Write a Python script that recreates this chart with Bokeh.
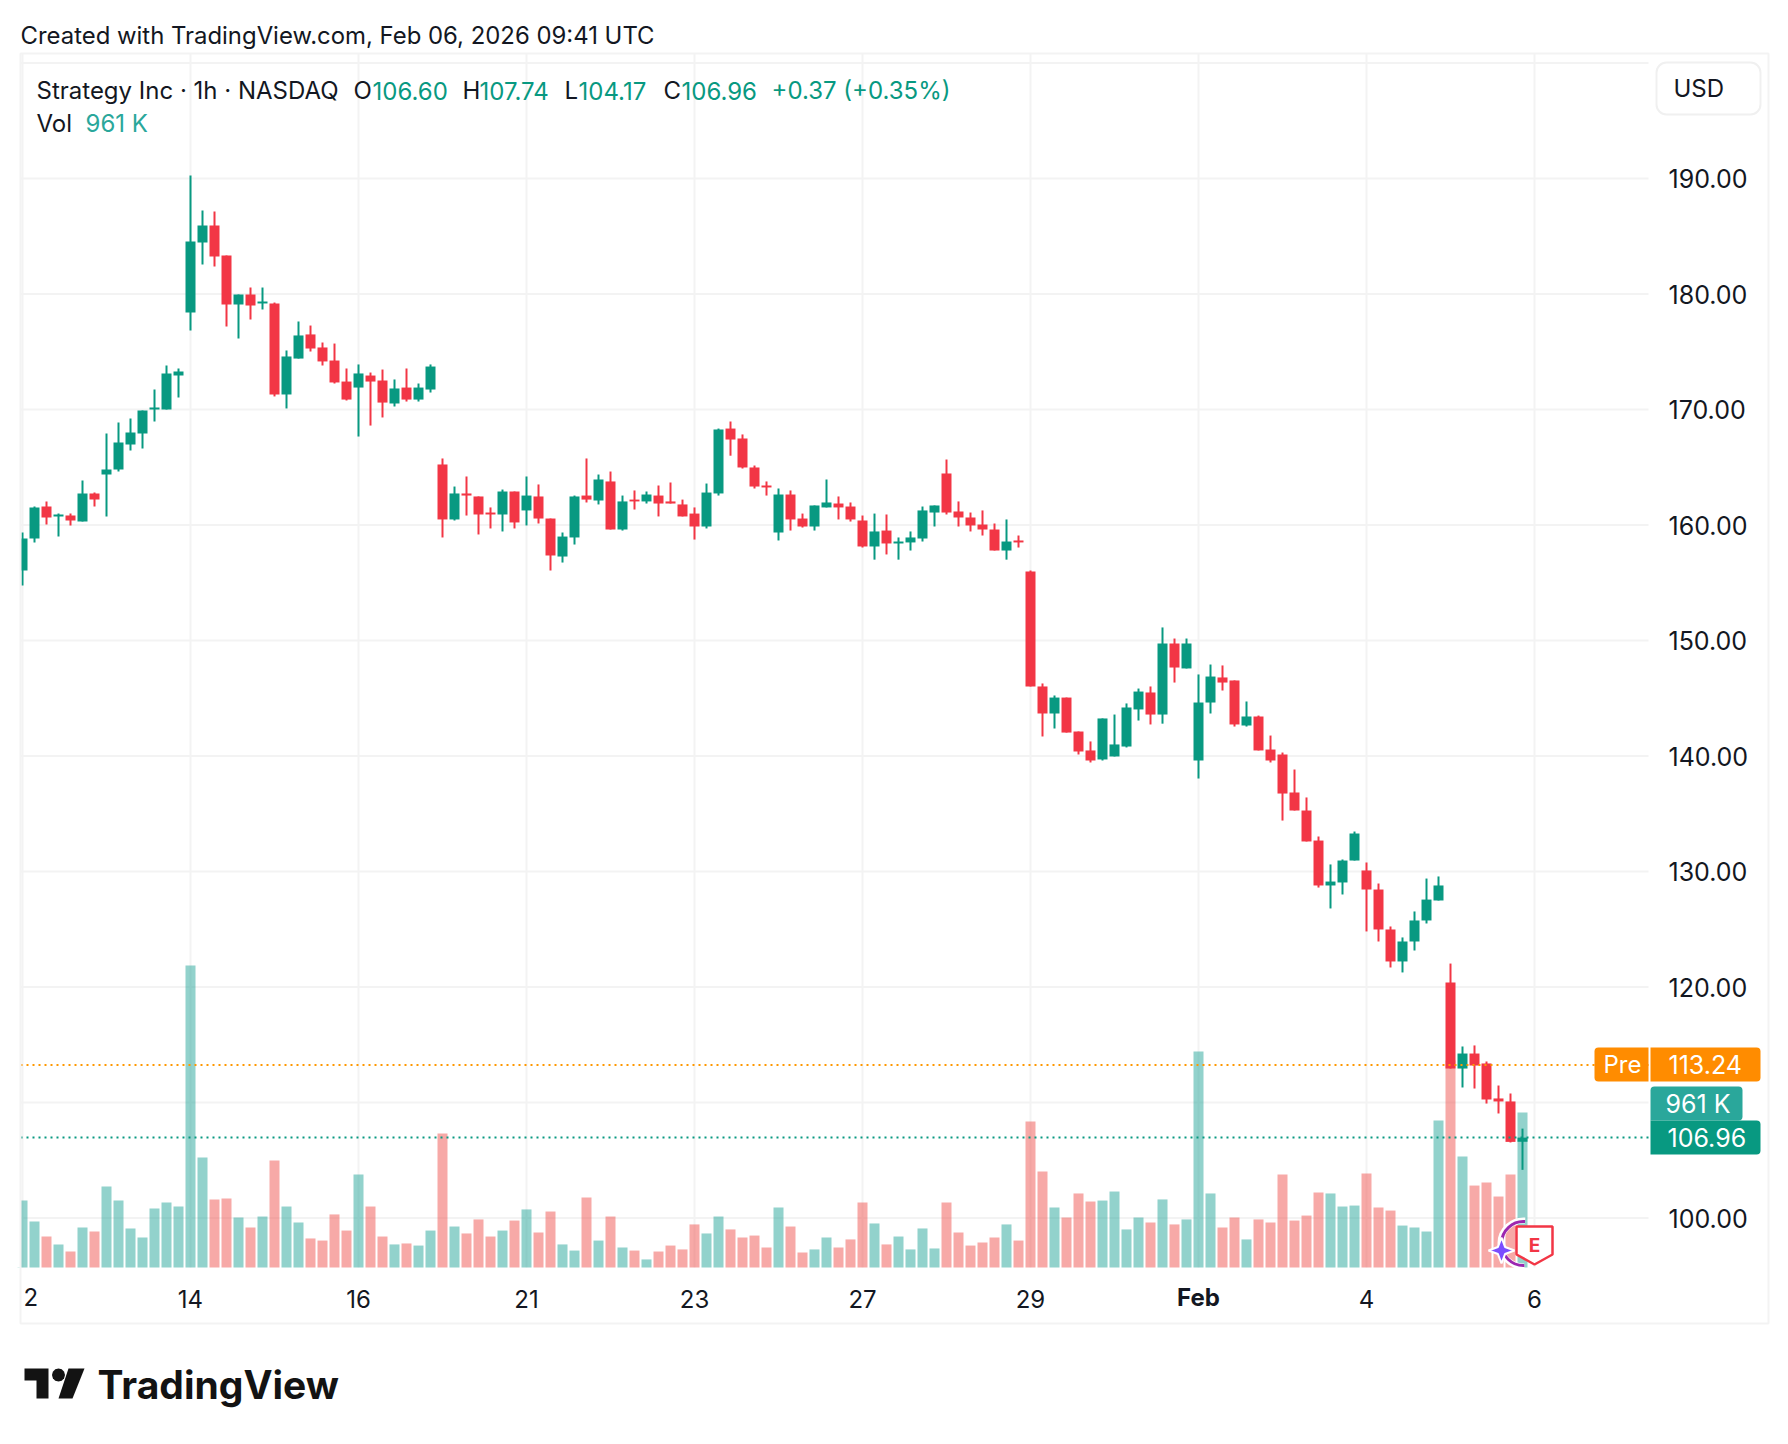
import math
from bokeh.plotting import figure
from bokeh.models import (ColumnDataSource, Range1d, FixedTicker, Label, BoxAnnotation, PolyAnnotation)
from bokeh.embed import file_html
from bokeh.resources import INLINE

opens = [156.06,158.83,161.60,160.74,160.82,160.30,162.73,164.37,164.80,166.97,
 167.92,170.00,170.00,172.94,178.40,184.46,185.93,183.33,179.09,179.96,
 179.18,179.18,171.30,174.41,176.50,175.37,174.24,172.42,171.90,172.94,
 172.51,170.52,171.90,170.86,171.73,165.24,160.48,162.73,162.47,161.08,
 160.91,162.90,161.26,162.47,160.56,157.27,158.92,162.55,162.12,163.77,
 159.61,162.20,162.04,162.55,162.04,161.78,160.99,159.87,162.73,168.35,
 167.49,164.98,163.42,159.35,162.64,160.56,159.87,161.52,161.86,161.60,
 160.39,158.14,159.52,158.40,158.49,158.83,161.08,164.46,161.17,160.65,
 160.04,159.61,157.79,158.66,155.97,146.02,143.68,145.06,142.12,140.48,
 139.70,139.96,140.82,144.03,145.50,143.59,149.74,147.58,139.61,144.63,
 146.80,146.54,142.64,143.42,140.56,140.13,136.84,135.28,132.68,128.79,
 129.05,130.95,130.09,128.44,124.98,122.21,123.94,125.76,127.49,120.39,
 112.94,114.24,113.38,110.35,110.09,106.60]
closes = [158.83,161.52,160.65,160.91,160.39,162.73,162.21,164.80,167.14,168.01,
 169.91,170.17,173.12,173.29,184.55,185.93,183.25,179.09,179.96,179.00,
 179.35,171.30,174.59,176.41,175.28,174.16,172.34,170.86,173.12,172.42,
 170.60,171.82,170.86,171.90,173.72,160.48,162.73,162.55,160.91,160.91,
 162.90,160.22,162.55,160.56,157.36,159.00,162.47,162.20,163.94,159.61,
 162.04,162.04,162.64,161.86,161.86,160.74,159.87,162.81,168.27,167.40,
 164.98,163.33,163.25,162.64,160.48,159.87,161.69,161.95,161.52,160.48,
 158.14,159.44,158.40,158.57,158.92,161.26,161.69,161.08,160.65,159.96,
 159.61,157.79,158.57,158.49,146.02,143.68,145.06,142.03,140.39,139.61,
 143.25,141.00,144.20,145.58,143.59,149.74,147.66,149.74,144.63,146.88,
 146.36,142.73,143.42,140.48,139.61,136.75,135.28,132.60,128.79,129.13,
 130.95,133.29,128.44,124.98,122.21,123.94,125.76,127.57,128.79,112.94,
 114.24,113.20,110.26,110.09,106.59,106.96]
highs = [159.35,161.60,162.03,161.00,161.00,163.85,162.81,167.92,168.87,169.22,
 169.91,171.73,173.81,173.55,190.26,187.23,187.14,183.33,179.96,180.56,
 180.56,179.26,175.11,177.62,177.27,175.80,175.71,173.55,173.90,173.20,
 173.46,172.60,173.55,172.25,173.90,165.76,163.33,164.20,162.47,161.52,
 163.07,162.90,164.20,163.51,160.56,159.35,162.55,165.76,164.37,164.63,
 162.55,162.99,162.90,163.42,163.68,162.20,161.52,163.59,168.35,168.96,
 167.84,165.15,163.77,163.16,162.99,160.99,161.69,163.94,162.47,161.95,
 160.82,160.99,160.91,158.92,159.44,161.60,161.69,165.67,162.04,161.08,
 161.26,160.13,160.48,159.09,156.06,146.28,145.24,145.06,142.12,141.26,
 143.25,143.59,144.55,145.84,146.02,151.13,150.17,150.17,147.06,147.92,
 147.84,146.54,144.72,143.50,141.77,140.30,138.83,136.41,133.03,130.61,
 131.04,133.46,130.78,128.96,125.24,124.29,126.54,129.39,129.57,122.03,
 114.85,114.94,113.55,111.47,110.78,107.74]
lows = [154.76,158.49,160.04,159.00,159.96,160.30,161.60,160.74,164.63,166.45,
 166.62,168.96,170.00,171.04,176.84,182.55,182.38,177.18,176.15,177.79,
 178.66,171.13,170.09,174.41,175.02,173.81,172.25,170.78,167.66,168.61,
 169.31,170.26,170.69,170.69,171.47,158.92,160.39,160.82,159.18,159.70,
 159.44,159.70,159.96,160.13,156.06,156.75,158.31,161.95,161.78,159.61,
 159.52,161.34,161.86,160.74,161.86,160.74,158.74,159.70,162.55,166.00,
 164.89,163.16,162.55,158.66,159.52,159.78,159.52,161.52,160.48,160.30,
 158.05,157.00,157.45,157.00,157.79,158.57,159.87,160.91,159.87,159.44,
 159.09,157.79,157.00,158.05,146.02,141.69,142.38,142.03,140.13,139.44,
 139.61,139.96,140.74,143.07,142.73,142.80,146.36,147.58,138.05,143.68,
 145.67,142.55,142.55,140.48,139.44,134.41,135.28,132.60,128.61,126.80,
 128.01,130.95,124.81,123.94,121.69,121.26,123.16,125.50,127.49,112.94,
 111.30,111.21,109.91,109.05,106.54,104.17]
volumes_k = [415,285,192,143,99,248,223,502,415,242,
 186,366,403,378,1872,682,422,428,310,248,
 316,663,378,279,180,167,329,229,577,378,
 192,143,149,136,229,831,254,211,298,192,
 229,291,360,217,347,143,105,434,167,316,
 124,105,50,99,136,112,267,211,316,236,
 186,198,124,372,254,93,112,186,124,174,
 403,273,143,192,112,242,118,403,217,136,
 155,186,267,167,905,595,372,310,459,409,
 415,471,236,310,279,422,267,298,1339,459,
 248,310,174,298,279,577,291,322,465,459,
 378,384,583,372,353,260,248,223,911,1283,
 688,508,527,440,577,961]
price_ticks = [100,110,120,130,140,150,160,170,180,190,200]
date_tick_bars = [0,14,28,42,56,70,84,98,112,126]
date_tick_labels = ["","14","16","21","23","27","29","","4","6"]
pre_price = 113.24
last_price = 106.96

GREEN = "#089981"; RED = "#F23645"; VOL_UP = "#26A69A"; VOL_DOWN = "#EF5350"
GRID = "#f3f3f3"; INK = "#131722"; ORANGE = "#FF8C00"
FONT = "Inter"; FS = "24px"; AXFS = "25px"

# page-pixel -> data helpers for annotation placement
def tx(px): return (px - 22) / 12
def ty(py): return 190 - (py - 178) / 11.55

n = len(opens)
idx = list(range(n))
colors = [GREEN if c >= o else RED for o, c in zip(opens, closes)]
vol_colors = [VOL_UP if c >= o else VOL_DOWN for o, c in zip(opens, closes)]
src = ColumnDataSource(dict(x=idx, o=opens, c=closes, h=highs, l=lows, v=volumes_k, col=colors, vcol=vol_colors,
                            top=[max(a, b) for a, b in zip(opens, closes)],
                            bot=[min(a, b) for a, b in zip(opens, closes)]))

W, H = 1772, 1428
p = figure(width=W, height=H, output_backend="svg", toolbar_location=None,
           x_range=Range1d(tx(0), tx(W)), y_range=Range1d(ty(H), ty(0)),
           x_axis_location="below", y_axis_location="right",
           min_border_left=0, min_border_top=0, min_border_right=0, min_border_bottom=0)
p.background_fill_color = "white"
p.border_fill_color = "white"
p.outline_line_color = None
vol_per_px = 961 / 155
p.extra_y_ranges = {"vol": Range1d(-(H - 1267) * vol_per_px, 1267 * vol_per_px)}

# axes
for ax, ticks in ((p.xaxis[0], date_tick_bars), (p.yaxis[0], price_ticks)):
    ax.ticker = FixedTicker(ticks=ticks)
    ax.axis_line_color = None
    ax.major_tick_line_color = None
    ax.minor_tick_line_color = None
    ax.major_label_text_font = FONT
    ax.major_label_text_color = INK
p.xaxis[0].fixed_location = ty(1267)
p.yaxis[0].fixed_location = tx(1648)
p.xaxis[0].major_label_text_font_size = FS
p.yaxis[0].major_label_text_font_size = AXFS
p.xaxis[0].major_label_overrides = dict(zip(date_tick_bars, date_tick_labels))
p.xaxis[0].major_label_standoff = 16
p.yaxis[0].major_label_overrides = {t: f"{t:.2f}" if t < 200 else "" for t in price_ticks}
p.yaxis[0].major_label_standoff = 14

# grid limited to the pane
p.xgrid.visible = False
p.ygrid.visible = False
p.segment(x0=date_tick_bars, x1=date_tick_bars, y0=ty(1267), y1=ty(53), line_color=GRID, line_width=2, level="underlay")
p.segment(x0=tx(20), x1=tx(1648), y0=price_ticks, y1=price_ticks, line_color=GRID, line_width=2, level="underlay")

# volume, wicks, bodies
p.vbar(x="x", top="v", bottom=0, width=10/12, source=src, y_range_name="vol",
       fill_color="vcol", fill_alpha=0.5, line_color=None)
p.segment(x0="x", x1="x", y0="l", y1="h", source=src, line_color="col", line_width=2)
p.vbar(x="x", top="top", bottom="bot", width=10/12, source=src, fill_color="col", line_color=None)

# price lines
p.segment(x0=[tx(20)], x1=[tx(1648)], y0=[pre_price], y1=[pre_price], line_color="#FF9800", line_width=2, line_dash="2 4")
p.segment(x0=[tx(20)], x1=[tx(1648)], y0=[last_price], y1=[last_price], line_color=GREEN, line_width=2, line_dash="2 4")

def box(l, r, t, b, fill=None, line=None, radius=0, lw=2):
    a = BoxAnnotation(left=tx(l), right=tx(r), top=ty(t), bottom=ty(b), border_radius=radius,
                      fill_color=fill, fill_alpha=1 if fill else 0,
                      line_color=line, line_alpha=1, line_width=lw, level="annotation")
    p.add_layout(a)

def text(s, px, py, color=INK, size=FS, style="normal", align="left", level="overlay"):
    p.add_layout(Label(x=tx(px), y=ty(py), text=s, text_color=color, text_font=FONT, text_font_size=size,
                       text_font_style=style, text_align=align, text_baseline="middle", level=level))

def poly(pts, fill, line=None, lw=2):
    p.add_layout(PolyAnnotation(xs=[tx(x) for x, _ in pts], ys=[ty(y) for _, y in pts],
                                fill_color=fill, fill_alpha=1, line_color=line, line_alpha=1,
                                line_width=lw, level="overlay"))

# mask the part of the first bar left of the pane, then the outer frame
box(0, 20, 53, 1267, fill="white")
box(20, 1768, 53, 1323, line="#f3f3f3")

# tags
box(1594, 1648, 1047, 1081, fill=ORANGE, radius=(4, 0, 0, 4))
box(1650, 1760, 1047, 1081, fill=ORANGE, radius=(0, 4, 4, 0))
box(1650, 1742, 1086, 1120, fill="#2AA79B", radius=(4, 4, 4, 0))
box(1650, 1760, 1120, 1154, fill=GREEN, radius=(0, 4, 4, 0))
text("Pre", 1603, 1064, color="white")
text("113.24", 1668, 1064, color="white", size=AXFS)
text("961 K", 1665, 1103, color="white", size=AXFS)
text("106.96", 1667, 1137, color="white", size=AXFS)

# currency button
box(1656, 1760, 62, 114, fill="white", line="#f0f0f0", radius=10)
text("USD", 1673, 88)

# heading / legend
text("Created with TradingView.com, Feb 06, 2026 09:41 UTC", 20, 35, size="23.9px")
text("Strategy Inc \u00b7 1h \u00b7 NASDAQ", 36, 90)
for s, x, c in [("O", 353, INK), ("106.60", 372, GREEN), ("H", 462, INK), ("107.74", 479, GREEN),
                ("L", 564, INK), ("104.17", 578, GREEN), ("C", 663, INK), ("106.96", 681, GREEN),
                ("+0.37 (+0.35%)", 771, GREEN)]:
    text(s, x, 90, color=c)
text("Vol", 36, 123)
text("961 K", 85, 123, color="#2AA79B")

# date labels styled apart from the axis
text("2", 23, 1296)
text("Feb", 1198, 1297, style="bold", align="center")

# earnings badge
p.arc(x=[tx(1523)], y=[ty(1243)], radius=23/12, start_angle=1.5, end_angle=4.75,
      line_color="white", line_width=6)
p.arc(x=[tx(1523)], y=[ty(1243)], radius=22/12, start_angle=1.5, end_angle=4.75,
      line_color="#9C27B0", line_width=3)
star = []
for k in range(8):
    r = 13 if k % 2 == 0 else 5
    a = k * math.pi / 4
    star.append((1501 + r * math.sin(a), 1250 - r * math.cos(a)))
poly(star, "#7B4DFF", line="white", lw=2)
poly([(1516, 1226), (1552, 1226), (1552, 1254), (1534, 1264), (1516, 1254)], "white", line=RED, lw=2.5)
text("E", 1534, 1245, color=RED, size="19px", style="bold", align="center")

# TradingView logo
poly([(24, 1368), (48, 1368), (48, 1398), (36, 1398), (36, 1380), (24, 1380)], "#131313", lw=0)
poly([(58 + 6.5 * math.cos(t / 12 * 2 * math.pi), 1374.5 + 6.5 * math.sin(t / 12 * 2 * math.pi)) for t in range(12)], "#131313", lw=0)
poly([(68, 1368), (84, 1368), (72, 1398), (58, 1398)], "#131313", lw=0)
text("TradingView", 97, 1384, color="#131313", size="39px", style="bold")

open("out.html", "w").write(file_html(p, INLINE))
